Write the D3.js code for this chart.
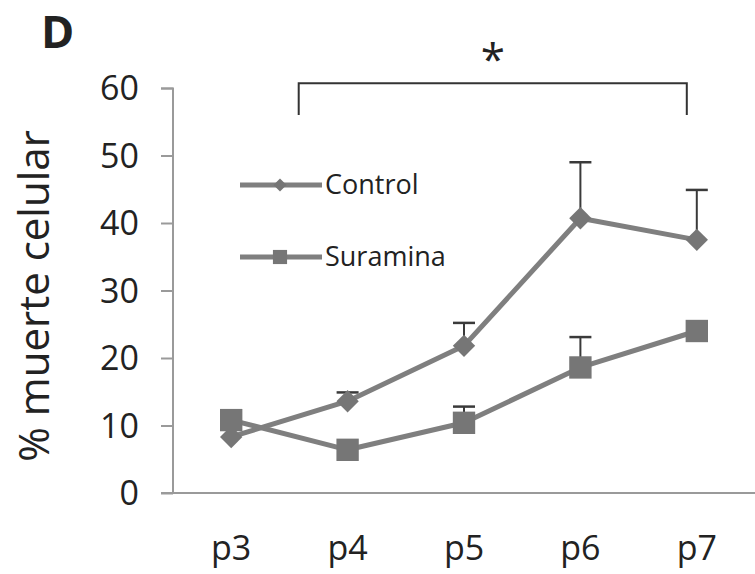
<!DOCTYPE html>
<html>
<head>
<meta charset="utf-8">
<script src="https://cdn.jsdelivr.net/npm/d3@7"></script>
<style>
  body { margin: 0; background: #fff; }
  text { font-family: "Open Sans", sans-serif; fill: #222; }
</style>
</head>
<body>
<div class="chart"></div>
<script>
// data
var categories = ["p3", "p4", "p5", "p6", "p7"];
var yTicks = [0, 10, 20, 30, 40, 50, 60];
var controlMean = [8.3, 13.6, 21.8, 40.7, 37.5];
var controlErr  = [null, 1.3, 3.4, 8.3, 7.4];
var suraminaMean = [10.8, 6.4, 10.4, 18.6, 24.0];
var suraminaErr  = [null, null, 2.4, 4.5, null];

// initialization
var margin = ({top: 88, right: 0, bottom: 81, left: 173});
var width = 755 - margin.left - margin.right,
    height = 574 - margin.top - margin.bottom;

var svg = d3.select(".chart").append("svg")
    .attr("width", 755)
    .attr("height", 574);

var g = svg.append("g")
    .attr("transform", "translate(" + margin.left + "," + margin.top + ")");

const xScale = d3.scalePoint()
    .domain(categories)
    .range([0, width])
    .padding(0.5);
// step is ~117.5px
const step = xScale.step();

const yScale = d3.scaleLinear()
    .domain([0, 60])
    .range([height, 0]);

// axes
const yAxis = d3.axisLeft(yScale).tickValues(yTicks).tickSize(12).tickPadding(22);
const ya = g.append("g").attr("class", "axis y-axis").call(yAxis);
ya.select(".domain").attr("d", "M-12,0.5H0V" + (height + 0.5));
ya.selectAll("line").attr("stroke", "#9a9a9a").attr("stroke-width", 2);
ya.select(".domain").attr("stroke", "#9a9a9a").attr("stroke-width", 2);
ya.selectAll("text").attr("font-size", 34).attr("fill", "#2a2a2a").attr("dy", "0.35em");

g.append("line")
    .attr("x1", -12).attr("x2", width)
    .attr("y1", yScale(0)).attr("y2", yScale(0))
    .attr("stroke", "#9a9a9a").attr("stroke-width", 2);

g.selectAll(".xlab").data(categories).join("text")
    .attr("class", "xlab")
    .attr("x", d => xScale(d))
    .attr("y", height + 67)
    .attr("text-anchor", "middle")
    .attr("font-size", 34)
    .text(d => d);

// axis title
svg.append("text")
    .attr("transform", "translate(49,296) rotate(-90)")
    .attr("text-anchor", "middle")
    .attr("font-size", 42)
    .text("% muerte celular");

// panel letter
svg.append("text")
    .attr("x", 41).attr("y", 48)
    .attr("font-size", 45)
    .attr("font-weight", "bold")
    .attr("font-family", "Liberation Sans, Arial, sans-serif")
    .text("D");

var lineColor = "#7f7f7f";
var markColor = "#767676";

function drawSeries(mean, err, shape, size, rot) {
    var pts = categories.map((c, i) => ({c: c, v: mean[i], e: err[i]}));
    // error bars (upper only)
    pts.filter(d => d.e).forEach(function(d) {
        var x = xScale(d.c);
        g.append("line").attr("x1", x).attr("x2", x)
            .attr("y1", yScale(d.v)).attr("y2", yScale(d.v + d.e))
            .attr("stroke", "#3a3a3a").attr("stroke-width", 2);
        g.append("line").attr("x1", x - 11).attr("x2", x + 11)
            .attr("y1", yScale(d.v + d.e)).attr("y2", yScale(d.v + d.e))
            .attr("stroke", "#3a3a3a").attr("stroke-width", 2.5);
    });
    var line = d3.line().x(d => xScale(d.c)).y(d => yScale(d.v));
    g.append("path").datum(pts)
        .attr("d", line)
        .attr("fill", "none")
        .attr("stroke", lineColor)
        .attr("stroke-width", 5)
        .attr("stroke-linejoin", "round");
    g.selectAll(null).data(pts).join("path")
        .attr("transform", d => "translate(" + xScale(d.c) + "," + yScale(d.v) + ") rotate(" + rot + ")")
        .attr("d", d3.symbol().type(shape).size(size))
        .attr("fill", markColor);
}

// diamonds are rotated squares
drawSeries(controlMean, controlErr, d3.symbolSquare, 250, 45);
drawSeries(suraminaMean, suraminaErr, d3.symbolSquare, 500, 0);

// legend
var legend = [
    {name: "Control", size: 85, rot: 45, y: 185},
    {name: "Suramina", size: 200, rot: 0, y: 257}
];
legend.forEach(function(l) {
    svg.append("line").attr("x1", 240).attr("x2", 322)
        .attr("y1", l.y).attr("y2", l.y)
        .attr("stroke", lineColor).attr("stroke-width", 5);
    svg.append("path")
        .attr("transform", "translate(280," + l.y + ") rotate(" + l.rot + ")")
        .attr("d", d3.symbol().type(d3.symbolSquare).size(l.size))
        .attr("fill", markColor);
    svg.append("text")
        .attr("x", 325).attr("y", l.y)
        .attr("dy", "0.35em")
        .attr("font-size", 27)
        .text(l.name);
});

// significance bracket between p3/p4 and p7
var bx1 = xScale("p3") + step * 0.58,
    bx2 = xScale("p7") - 10,
    by = yScale(60.7), byEnd = yScale(56);
g.append("path")
    .attr("d", "M" + bx1 + "," + byEnd + "V" + by + "H" + bx2 + "V" + byEnd)
    .attr("fill", "none")
    .attr("stroke", "#333")
    .attr("stroke-width", 2);
g.append("text")
    .attr("x", (bx1 + bx2) / 2)
    .attr("y", by - 8)
    .attr("text-anchor", "middle")
    .attr("font-size", 44)
    .text("*");
</script>
</body>
</html>
